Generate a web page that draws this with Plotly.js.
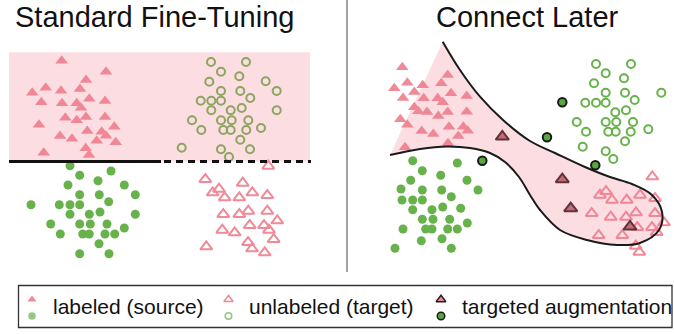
<!DOCTYPE html>
<html>
<head>
<meta charset="utf-8">
<script src="https://cdn.plot.ly/plotly-3.0.1.min.js"></script>
<style>html,body{margin:0;padding:0;background:#fff;}#chart{width:674px;height:334px;}</style>
</head>
<body>
<div id="chart"></div>
<script>
// ---------- data (positions in figure units) ----------
// Standard Fine-Tuning panel
const sftSrcTriX = [61.7,106,86,32.3,45.7,61,80,41.3,62,76.7,89.3,105,81,65.3,76.7,86,105,39,114.3,87.3,101.7,60,72,106,96.7,115.7,43.7,85.7,89];
const sftSrcTriY = [60.7,71.7,80,92.7,87.7,90.7,89,102.3,103.3,103.3,98.7,101,107.7,117.7,120.3,117,117,124.7,126.7,131,131.7,136,138.7,135.7,140.7,142.3,152.7,148.3,155];
const sftTgtCircX = [211,246,221,239.3,209.3,265.7,221,240.3,276.7,250.3,200.7,211.3,221,211.3,230.7,241.7,276.7,192,221,231.7,248.3,201.3,223.3,230.7,246.3,261,240.3,181.7,221,250,229];
const sftTgtCircY = [62,62,71.7,76.3,81.7,81.3,91,91,91,98,100.7,100.7,100.7,110.3,110.3,108,110.3,120.3,120.3,120.3,120.3,130,130,130,130,128,139.7,147.7,149.3,149.3,157];
const sftSrcDotX = [70,79.7,111,68,98,124.3,79.7,99.3,135.3,31,59.3,70,79.7,108.7,70,89.3,100,135.3,50.7,79.7,90.3,107,60.3,82.7,89.3,105,114.7,124.3,99,79.7,109];
const sftSrcDotY = [165.7,175.3,171,185,180.7,185,194.7,194.7,194.7,204.7,204.7,204.7,204.7,201.7,214.3,214.3,212,214.3,224,224,224,224,234,234,234,234,234,228,243.7,253.7,253.7];
const sftTgtTriX = [268.3,205.3,242.7,212.7,219,224.7,239.3,252.3,267.3,223.3,239.3,248.3,267.3,277.3,249.7,264,269,222.3,234.7,273.7,206.3,248,252,264.7];
const sftTgtTriY = [166,179.3,183,192.7,189,197.7,197.7,192.7,195.3,214.3,214.3,211,211,220.7,225.3,225.3,230,230,232.7,239.3,246.7,242.3,248.7,252.7];

// Connect Later panel
const clSrcTriX = [402.3,447.7,407.3,394.3,422.7,441.3,414.3,451,403,423.7,437.7,442.7,466.7,414.3,418.3,427,447.7,466.7,438.3,400.3,407.3,449,463.3,467.7,421.7,433.3,458.3,448,405];
const clSrcTriY = [67.3,75,82.7,88.3,85.3,83.3,92,93.3,98,98.3,98.3,102.3,96,107.3,111.3,112,112,111.7,116,119.3,124.7,126.7,126.7,130.7,131,134,136,143.3,147.3];
const clSrcDotX = [412.7,422.3,457.3,440.7,410.7,467,401,422.3,441.7,478,402,412.7,422.3,451.3,412.7,432,442.7,460.7,422.3,433,449.7,403,425.7,432,447.7,457.3,467.3,421.3,442,395,451.3];
const clSrcDotY = [160.7,170.7,163,175.3,180.3,180.3,189,190,190,190,200,200,200,196.7,209.7,209.7,207,208.3,219.3,219.3,219.3,229,229,229,229,229,223,240.7,238.7,248.3,248.3];
const clTgtCircX = [596,631,605.7,624,594,605.7,625,661.3,585.3,596,605.7,634.7,615.3,626,576.7,605.7,616.3,633,586,608.3,615.7,630.7,648.3,625,582.7,605.7,613.3];
const clTgtCircY = [64,64,73.3,78.3,83.3,92.7,92.7,92.7,102.7,102.7,102.7,100,112.3,110.3,122,122,122,122,131.7,131.7,131.7,131.7,129.3,141.3,146.7,151.3,159];
const clTgtTriX = [652.3,600,606,612,626.7,640,655,591.7,610.7,626,636,655,664,598.7,622.3,637.3,652,656.7,635.7,639.3];
const clTgtTriY = [176.7,195,191.3,200,200,195,198.3,213.3,217,217,212.7,213.3,222.7,235.3,235.3,227.3,227.3,232.3,246,252];
const augTriX = [502.3,562.3,570.7,630];
const augTriY = [136.7,179.3,208.3,226.7];
const augDotX = [482.3,562.3,547,595.3];
const augDotY = [160.7,102.3,137.3,165.3];

// decision region boundary (Connect Later)
const regionX = [442.7,460,480,503,530,555,585,610,632,652,662,659,640,617,587,560,540,530,519,505,490,470,447,420,390];
const regionY = [41.7,70,96.7,120,141,153,167,177,184,195,212,230,243,245,240,230,210,195,177,162,153,148,146.5,149,155];

// text
const panelTitles = ["Standard Fine-Tuning", "Connect Later"];
const legendLabels = ["labeled (source)", "unlabeled (target)", "targeted augmentation"];

// ---------- styles ----------
const PINK = '#f08a98';
const GREEN = '#68b24c';
const REGION = 'rgba(240,128,146,0.27)';
const FONT = 'Liberation Sans, Arial, sans-serif';

function pts(x, y, marker) {
  return {type:'scatter', mode:'markers', x:x, y:y, marker:marker, hoverinfo:'skip', showlegend:false, cliponaxis:false};
}
const triFilled = {symbol:'triangle-up', size:11, color:PINK, line:{width:0}};
const triOpen = {symbol:'triangle-up-open', size:10.5, color:PINK, line:{width:2, color:PINK}};
const dotFilled = {symbol:'circle', size:9, color:GREEN, line:{width:0}};
const dotOpen = {symbol:'circle-open', size:8, color:GREEN, line:{width:2, color:GREEN}};
const triAug = {symbol:'triangle-up', size:11.5, color:'#b8606e', line:{width:2, color:'#2a1a1a'}};
const dotAug = {symbol:'circle', size:8.5, color:'#5aa63f', line:{width:2, color:'#1a1a1a'}};

const traces = [
  pts(sftSrcTriX, sftSrcTriY, triFilled),
  pts(sftTgtCircX, sftTgtCircY, dotOpen),
  pts(sftSrcDotX, sftSrcDotY, dotFilled),
  pts(sftTgtTriX, sftTgtTriY, triOpen),
  pts(clSrcTriX, clSrcTriY, triFilled),
  pts(clSrcDotX, clSrcDotY, dotFilled),
  pts(clTgtCircX, clTgtCircY, dotOpen),
  pts(clTgtTriX, clTgtTriY, triOpen),
  pts(augTriX, augTriY, triAug),
  pts(augDotX, augDotY, dotAug),
  // region fill (drawn above points)
  {type:'scatter', mode:'lines', x:regionX, y:regionY, fill:'toself', fillcolor:REGION,
   line:{width:0, shape:'spline', smoothing:1}, hoverinfo:'skip', showlegend:false},
  // region outline
  {type:'scatter', mode:'lines', x:regionX, y:regionY,
   line:{width:2, color:'#1a1a1a', shape:'spline', smoothing:1}, hoverinfo:'skip', showlegend:false},
  // legend icons
  pts([32, 228.5], [299.5, 299.5], {symbol:['triangle-up','triangle-up-open'], size:8, color:PINK, line:{width:[0,1.6], color:PINK}}),
  pts([32, 228.5], [316, 316], {symbol:['circle','circle-open'], size:[7.5,6.5], color:GREEN, line:{width:[0,1.6], color:GREEN}}),
  pts([441], [299.5], {symbol:'triangle-up', size:8.5, color:'#e58a96', line:{width:1.5, color:'#2a1a1a'}}),
  pts([441], [316], {symbol:'circle', size:7.5, color:'#5aa63f', line:{width:1.5, color:'#1a1a1a'}})
];

const shapes = [
  // Standard Fine-Tuning source region
  {type:'rect', xref:'x', yref:'y', x0:9, x1:310, y0:52.3, y1:161.5, fillcolor:REGION, line:{width:0}, layer:'above'},
  {type:'line', xref:'x', yref:'y', x0:9, x1:161, y0:161.5, y1:161.5, line:{color:'#111', width:3}, layer:'above'},
  {type:'line', xref:'x', yref:'y', x0:164, x1:311, y0:161.5, y1:161.5, line:{color:'#111', width:3, dash:'7px,5px'}, layer:'above'},
  // divider
  {type:'line', xref:'x', yref:'y', x0:347, x1:347, y0:0, y1:272, line:{color:'#a3a3a3', width:2}},
  // legend box
  {type:'rect', xref:'x', yref:'y', x0:18.5, x1:672, y0:285.5, y1:327.5, line:{color:'#333', width:1.3}, fillcolor:'rgba(0,0,0,0)'}
];

const annotations = [
  {x:154, y:17, text:panelTitles[0], font:{size:29, color:'#111', family:FONT}},
  {x:527.5, y:17, text:panelTitles[1], font:{size:29, color:'#111', family:FONT}},
  {x:50.5, y:306, text:legendLabels[0], xanchor:'left', font:{size:21, color:'#111', family:FONT}},
  {x:246.5, y:306, text:legendLabels[1], xanchor:'left', font:{size:21, color:'#111', family:FONT}},
  {x:459.5, y:306, text:legendLabels[2], xanchor:'left', font:{size:21, color:'#111', family:FONT}}
].map(a => Object.assign({xref:'x', yref:'y', showarrow:false, yanchor:'middle', xanchor:'center'}, a));

const layout = {
  width:674, height:334,
  margin:{l:0, r:0, t:0, b:0, pad:0},
  paper_bgcolor:'#fff', plot_bgcolor:'#fff',
  xaxis:{range:[0,674], visible:false, fixedrange:true},
  yaxis:{range:[334,0], visible:false, fixedrange:true},
  shapes:shapes, annotations:annotations, showlegend:false,
  font:{family:FONT}
};

Plotly.newPlot('chart', traces, layout, {staticPlot:true, displayModeBar:false});
</script>
</body>
</html>
